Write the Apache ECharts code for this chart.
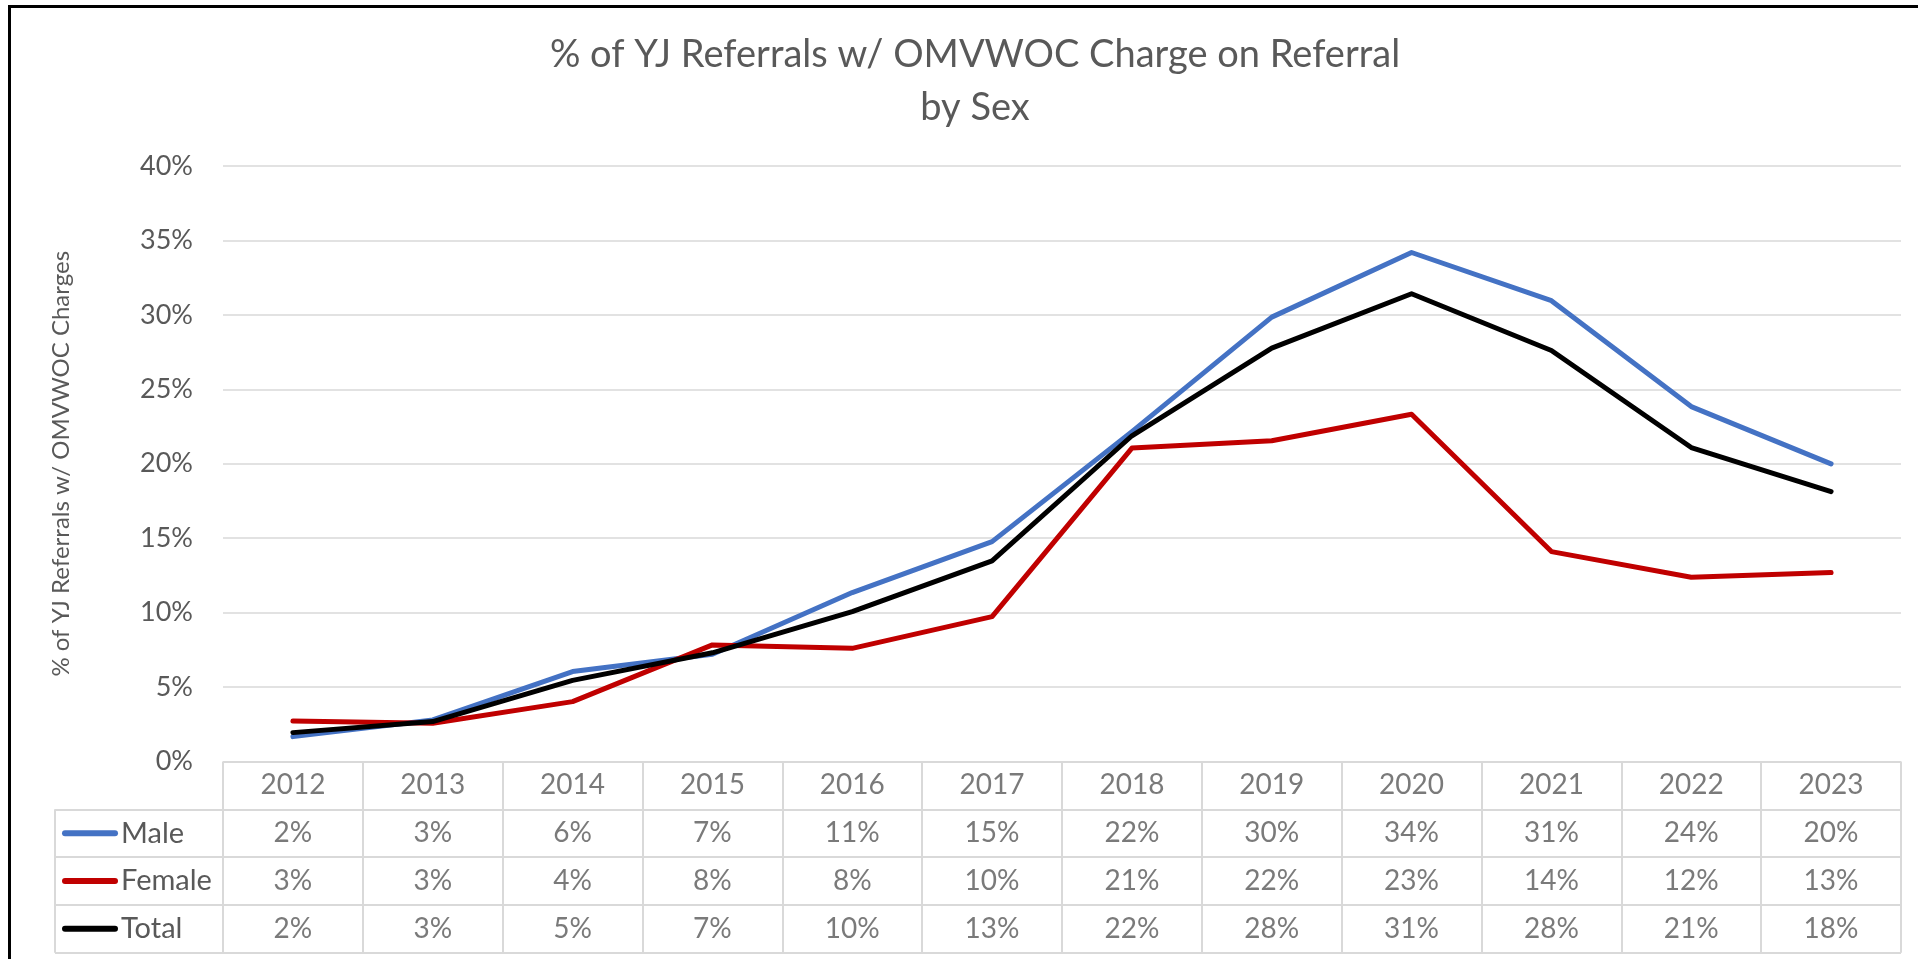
<!DOCTYPE html>
<html>
<head>
<meta charset="utf-8">
<title>% of YJ Referrals w/ OMVWOC Charge on Referral by Sex</title>
<script src="https://cdn.jsdelivr.net/npm/echarts@6/dist/echarts.min.js"></script>
<style>
  html, body { margin: 0; padding: 0; background: #fff; }
  #chart { width: 1918px; height: 959px; }
</style>
</head>
<body>
<div id="chart"></div>
<script>
// values (percent)
const years = ['2012', '2013', '2014', '2015', '2016', '2017', '2018', '2019', '2020', '2021', '2022', '2023']
const male = [1.67, 2.79, 6.04, 7.2, 11.35, 14.77, 22.16, 29.85, 34.19, 30.95, 23.84, 19.99]
const female = [2.72, 2.57, 4.02, 7.83, 7.6, 9.73, 21.05, 21.54, 23.33, 14.1, 12.38, 12.69]
const total = [1.94, 2.68, 5.45, 7.3, 10.07, 13.47, 21.88, 27.77, 31.42, 27.61, 21.09, 18.13]
const yTicks = [0, 5, 10, 15, 20, 25, 30, 35, 40]

const seriesList = [
  { name: 'Male', data: male, color: '#4472C4' },
  { name: 'Female', data: female, color: '#C00000' },
  { name: 'Total', data: total, color: '#000000' },
]

const font = 'Lato'
const textColor = '#595959'
const gridColor = '#D9D9D9'

// table cells: header row with years, then one row per series
const rows = ['hdr'].concat(seriesList.map(s => s.name))
const cells = []
years.forEach((y, i) => {
  cells.push([y, 'hdr', y])
  seriesList.forEach(s => cells.push([y, s.name, Math.round(s.data[i]) + '%']))
})

const legendRich = { t: { fontFamily: font, fontSize: 29, color: textColor, padding: [0, 0, 0, 3] } }
seriesList.forEach((s, i) => {
  legendRich['m' + i] = { width: 56, height: 6, backgroundColor: s.color, borderRadius: 3 }
})

let myChart = echarts.init(document.getElementById('chart'))
myChart.setOption({
  animation: false,
  backgroundColor: '#fff',
  title: {
    text: '% of YJ Referrals w/ OMVWOC Charge on Referral\nby Sex',
    left: 970,
    top: 23,
    textAlign: 'center',
    textStyle: {
      fontFamily: font,
      fontWeight: 'normal',
      fontSize: 38,
      lineHeight: 53,
      color: textColor,
    },
  },
  graphic: [
    {
      type: 'rect',
      shape: { x: 9.5, y: 6.5, width: 2000, height: 2000 },
      style: { fill: 'none', stroke: '#000', lineWidth: 3 },
      silent: true,
    },
  ],
  grid: [
    { left: 223, top: 166, width: 1678, height: 595.5, outerBoundsMode: 'none' },
    { left: 223, top: 761.5, width: 1678, height: 191.2, outerBoundsMode: 'none' },
    { left: 55, top: 809.3, width: 168, height: 143.4, outerBoundsMode: 'none' },
  ],
  xAxis: [
    {
      gridIndex: 0,
      type: 'category',
      data: years,
      axisLine: { show: false },
      axisTick: { show: false },
      axisLabel: { show: false },
      splitLine: { show: false },
    },
    {
      gridIndex: 1,
      type: 'category',
      data: years,
      axisLine: { show: false },
      axisTick: { show: false },
      axisLabel: { show: false },
      splitLine: { show: true, interval: 0, lineStyle: { color: gridColor, width: 2 } },
    },
    {
      gridIndex: 2,
      type: 'category',
      data: [''],
      axisLine: { show: false },
      axisTick: { show: false },
      axisLabel: { show: false },
      splitLine: { show: true, interval: 0, lineStyle: { color: gridColor, width: 2 } },
    },
  ],
  yAxis: [
    {
      gridIndex: 0,
      type: 'value',
      min: yTicks[0],
      max: yTicks[yTicks.length - 1],
      interval: 5,
      name: '% of YJ Referrals w/ OMVWOC Charges',
      nameLocation: 'middle',
      nameRotate: 90,
      nameGap: 150,
      nameTextStyle: { fontFamily: font, fontSize: 24, color: textColor },
      axisLine: { show: false },
      axisTick: { show: false },
      axisLabel: {
        margin: 30,
        fontFamily: font,
        fontSize: 27,
        color: textColor,
        formatter: '{value}%',
      },
      splitLine: { show: true, lineStyle: { color: gridColor, width: 1.5 } },
    },
    {
      gridIndex: 1,
      type: 'category',
      data: rows,
      inverse: true,
      axisLine: { show: false },
      axisTick: { show: false },
      axisLabel: { show: false },
      splitLine: { show: true, interval: 0, lineStyle: { color: gridColor, width: 2 } },
    },
    {
      gridIndex: 2,
      type: 'category',
      data: seriesList.map(s => s.name),
      inverse: true,
      axisLine: { show: false },
      axisTick: { show: false },
      axisLabel: {
        inside: true,
        margin: 7,
        align: 'left',
        interval: 0,
        formatter: (v, i) => `{m${i}|}{t|${v}}`,
        rich: legendRich,
      },
      splitLine: { show: true, interval: 0, lineStyle: { color: gridColor, width: 2 } },
    },
  ],
  series: seriesList.map(s => ({
    name: s.name,
    type: 'line',
    xAxisIndex: 0,
    yAxisIndex: 0,
    data: s.data,
    symbol: 'none',
    lineStyle: { color: s.color, width: 5, cap: 'round', join: 'round' },
    itemStyle: { color: s.color },
  })).concat([
    {
      type: 'scatter',
      xAxisIndex: 1,
      yAxisIndex: 1,
      data: cells,
      symbolSize: 0,
      itemStyle: { color: 'transparent' },
      label: {
        show: true,
        position: 'inside',
        formatter: p => p.value[2],
        fontFamily: font,
        fontSize: 28,
        color: textColor,
      },
    },
  ]),
})
</script>
</body>
</html>
